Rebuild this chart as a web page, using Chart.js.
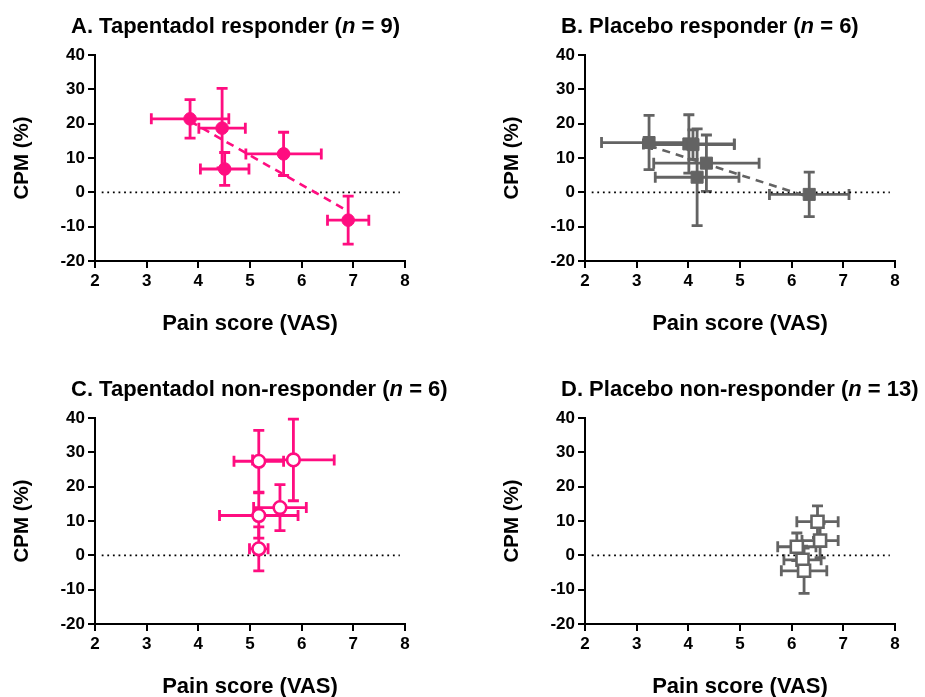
<!DOCTYPE html>
<html>
<head>
<meta charset="utf-8">
<script src="https://cdn.jsdelivr.net/npm/chart.js@4/dist/chart.umd.min.js"></script>
<style>
  body { margin: 0; background: #fff; width: 925px; height: 697px; overflow: hidden; position: relative; }
  canvas { position: absolute; }
</style>
</head>
<body>
<canvas id="chart-a" width="480" height="348" style="left:0;top:0"></canvas>
<canvas id="chart-b" width="435" height="348" style="left:490px;top:0"></canvas>
<canvas id="chart-c" width="480" height="348" style="left:0;top:363px"></canvas>
<canvas id="chart-d" width="435" height="348" style="left:490px;top:363px"></canvas>
<script>
const PINK = '#FF0D80';
const GREY = '#636363';
const FONT = "'Liberation Sans', Arial, sans-serif";

// tick labels
const xTicks = [2, 3, 4, 5, 6, 7, 8];
const yTicks = [-20, -10, 0, 10, 20, 30, 40];

// A. Tapentadol responder
const painA = [3.84, 4.46, 4.51, 5.65, 6.90];
const cpmA = [21.4, 18.7, 6.8, 11.2, -8.1];
const painErrA = [0.75, 0.45, 0.47, 0.73, 0.40];
const cpmErrA = [5.6, 11.6, 4.8, 6.3, 7.0];
const trendA = [[3.84, 20.7], [6.90, -5.5]];

// B. Placebo responder
const painB = [3.24, 4.01, 4.09, 4.17, 4.35, 6.34];
const cpmB = [14.5, 14.1, 13.9, 4.4, 8.5, -0.6];
const painErrB = [0.92, 0.88, 0.80, 0.81, 1.02, 0.77];
const cpmErrB = [7.9, 8.5, 4.3, 14.1, 8.2, 6.5];
const trendB = [[3.24, 13.6], [6.34, -1.4]];

// C. Tapentadol non-responder
const painC = [5.17, 5.84, 5.58, 5.17, 5.17];
const cpmC = [27.4, 27.8, 13.9, 11.6, 1.9];
const painErrC = [0.48, 0.79, 0.51, 0.76, 0.18];
const cpmErrC = [9.0, 11.9, 6.7, 6.6, 6.4];

// D. Placebo non-responder
const painD = [6.50, 6.55, 6.10, 6.21, 6.24];
const cpmD = [9.8, 4.3, 2.5, -1.3, -4.5];
const painErrD = [0.40, 0.35, 0.37, 0.36, 0.44];
const cpmErrD = [4.6, 5.0, 4.0, 4.0, 6.6];

const zeroLine = [[2.13, 0], [7.9, 0]];

const panels = [
    { id: 'chart-a', label: 'A. Tapentadol responder', n: 9, x: painA, y: cpmA, ex: painErrA, ey: cpmErrA, trend: trendA, color: PINK, style: 'circle', open: false, padRight: 75 },
    { id: 'chart-b', label: 'B. Placebo responder', n: 6, x: painB, y: cpmB, ex: painErrB, ey: cpmErrB, trend: trendB, color: GREY, style: 'rect', open: false, padRight: 30 },
    { id: 'chart-c', label: 'C. Tapentadol non-responder', n: 6, x: painC, y: cpmC, ex: painErrC, ey: cpmErrC, trend: null, color: PINK, style: 'circle', open: true, padRight: 75 },
    { id: 'chart-d', label: 'D. Placebo non-responder', n: 13, x: painD, y: cpmD, ex: painErrD, ey: cpmErrD, trend: null, color: GREY, style: 'rect', open: true, padRight: 30 }
];

// error bars, drawn under the markers
const errorBars = {
    id: 'errorBars',
    beforeDatasetsDraw(chart, args, opts) {
        const { ctx, scales: { x, y } } = chart;
        const p = opts.panel;
        const cap = 5.5;
        ctx.save();
        ctx.strokeStyle = p.color;
        ctx.lineWidth = 2.8;
        p.x.forEach((v, i) => {
            const px = x.getPixelForValue(v);
            const py = y.getPixelForValue(p.y[i]);
            const x0 = x.getPixelForValue(v - p.ex[i]);
            const x1 = x.getPixelForValue(v + p.ex[i]);
            const y0 = y.getPixelForValue(p.y[i] + p.ey[i]);
            const y1 = y.getPixelForValue(p.y[i] - p.ey[i]);
            ctx.beginPath();
            ctx.moveTo(x0, py); ctx.lineTo(x1, py);
            ctx.moveTo(x0, py - cap); ctx.lineTo(x0, py + cap);
            ctx.moveTo(x1, py - cap); ctx.lineTo(x1, py + cap);
            ctx.moveTo(px, y0); ctx.lineTo(px, y1);
            ctx.moveTo(px - cap, y0); ctx.lineTo(px + cap, y0);
            ctx.moveTo(px - cap, y1); ctx.lineTo(px + cap, y1);
            ctx.stroke();
        });
        ctx.restore();
    }
};

// panel title with italic n
const panelTitle = {
    id: 'panelTitle',
    afterDraw(chart, args, opts) {
        const { ctx } = chart;
        const p = opts.panel;
        const parts = [
            [p.label + ' (', 'bold 22px ' + FONT],
            ['n', 'italic bold 22px ' + FONT],
            [' = ' + p.n + ')', 'bold 22px ' + FONT]
        ];
        ctx.save();
        ctx.fillStyle = '#000';
        ctx.textBaseline = 'alphabetic';
        let cx = 71;
        parts.forEach(([t, f]) => {
            ctx.font = f;
            ctx.fillText(t, cx, 33);
            cx += ctx.measureText(t).width;
        });
        ctx.restore();
    }
};

const toPts = arr => arr.map(([a, b]) => ({ x: a, y: b }));

panels.forEach(p => {
    const datasets = [{
        data: p.x.map((v, i) => ({ x: v, y: p.y[i] })),
        pointStyle: p.style,
        pointRadius: p.style === 'rect' ? 8.5 : 6.3,
        pointHoverRadius: p.style === 'rect' ? 8.5 : 6.3,
        backgroundColor: p.open ? '#fff' : p.color,
        borderColor: p.color,
        pointBorderWidth: p.open ? 2.6 : 1,
        showLine: false
    }];
    if (p.trend) {
        datasets.push({
            data: toPts(p.trend),
            showLine: true,
            borderColor: p.color,
            borderWidth: 2.6,
            borderDash: [8, 6],
            pointRadius: 0
        });
    }
    datasets.push({
        data: toPts(zeroLine),
        showLine: true,
        borderColor: '#000',
        borderWidth: 1.8,
        borderDash: [1.8, 3.8],
        pointRadius: 0
    });

    const tickFont = { family: FONT, size: 17, weight: 'bold' };
    const xTitleFont = { family: FONT, size: 22, weight: 'bold' };
    const yTitleFont = { family: FONT, size: 20.5, weight: 'bold' };

    new Chart(document.getElementById(p.id).getContext('2d'), {
        type: 'scatter',
        data: { datasets },
        options: {
            responsive: false,
            animation: false,
            layout: { padding: { top: 55, right: p.padRight, left: 0, bottom: 0 } },
            plugins: {
                legend: { display: false },
                tooltip: { enabled: false },
                errorBars: { panel: p },
                panelTitle: { panel: p }
            },
            scales: {
                x: {
                    type: 'linear', min: 2, max: 8,
                    afterBuildTicks: s => { s.ticks = xTicks.map(v => ({ value: v })); },
                    afterFit: s => { s.height = 87; },
                    grid: { display: true, drawOnChartArea: false, color: '#000', lineWidth: 2, tickLength: 7 },
                    border: { display: true, color: '#000', width: 2 },
                    ticks: { color: '#000', font: tickFont, padding: 3, maxRotation: 0 },
                    title: { display: true, text: 'Pain score (VAS)', color: '#000', font: xTitleFont, padding: { top: 0, bottom: 11 } }
                },
                y: {
                    type: 'linear', min: -20, max: 40,
                    afterBuildTicks: s => { s.ticks = yTicks.map(v => ({ value: v })); },
                    afterFit: s => { s.width = 95; },
                    grid: { display: true, drawOnChartArea: false, color: '#000', lineWidth: 2, tickLength: 7 },
                    border: { display: true, color: '#000', width: 2 },
                    ticks: { color: '#000', font: tickFont, padding: 3 },
                    title: { display: true, text: 'CPM (%)', color: '#000', font: yTitleFont, padding: { top: 10, bottom: 0 } }
                }
            }
        },
        plugins: [errorBars, panelTitle]
    });
});
</script>
</body>
</html>
